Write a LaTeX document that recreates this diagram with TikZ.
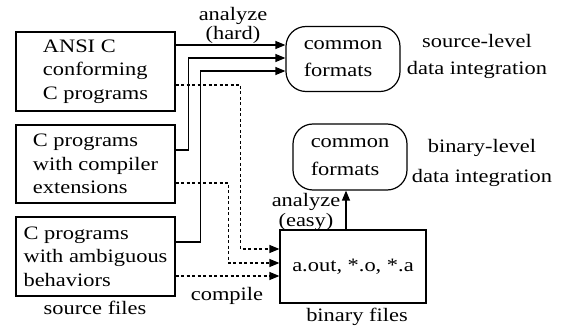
\documentclass[tikz,border=0pt]{standalone}
\usepackage{fontspec}
\setmainfont[FakeStretch=1.18]{Liberation Serif}
\usetikzlibrary{arrows.meta}
\begin{document}
\begin{tikzpicture}[x=1pt,y=-1pt,
  every node/.style={font=\fontsize{19}{23.5}\selectfont, inner sep=0pt},
  srcbox/.style={draw, line width=1.2pt, minimum width=159pt, minimum height=79pt, align=left},
  fmtbox/.style={draw, line width=1.2pt, rounded corners=20pt, minimum width=114pt, minimum height=65pt, align=left},
  lbl/.style={align=center},
  arr/.style={line width=1.2pt, -{Triangle[length=10pt,width=8pt]}},
  darr/.style={line width=1.2pt, dash pattern=on 3pt off 2.5pt, -{Triangle[length=10pt,width=8pt]}}]
\useasboundingbox (0,0) rectangle (566,329);
\node[srcbox] (b1) at (95.5,71.5) {ANSI C\\conforming\\C programs};
\node[srcbox, minimum height=78pt] (b2) at (95.5,164) {C programs\\with compiler\\extensions};
\node[srcbox] (b3) at (95.5,256.5) {C programs\\with ambiguous\\behaviors};
\node[lbl] (sf) at (95,308) {source files};
\node[fmtbox, font=\fontsize{19}{27}\selectfont] (cf1) at (343,59) {common\\formats};
\node[fmtbox, minimum height=66pt, font=\fontsize{19}{28}\selectfont] (cf2) at (350,157) {common\\formats};
\node[draw, line width=1.2pt, minimum width=146pt, minimum height=73pt] (bin) at (353,266.5) {a.out, *.o, *.a};
\node[lbl] (bf) at (357,317) {binary files};
\node[lbl, font=\fontsize{19}{27}\selectfont] (sl) at (477,56.5) {source-level\\data integration};
\node[lbl, font=\fontsize{19}{30}\selectfont] (bl) at (482,163) {binary-level\\data integration};
\node[lbl, font=\fontsize{19}{19}\selectfont] (ah) at (233,25) {analyze\\(hard)};
\node[lbl, font=\fontsize{19}{20}\selectfont] (ae) at (306,212) {analyze\\(easy)};
\node[lbl] (cp) at (227,296) {compile};
% solid arrows
\draw[arr] ([yshift=26.5pt]b1.east) -- ([yshift=14pt]cf1.west);
\draw[arr] ([yshift=14pt]b2.east) -- ++(13,0) |- ([yshift=1pt]cf1.west);
\draw[arr] ([yshift=14.5pt]b3.east) -- ++(25,0) |- ([yshift=-12pt]cf1.west);
% dashed arrows
\draw[darr] ([yshift=-13.5pt]b1.east) -- ++(65,0) |- ([yshift=17.5pt]bin.west);
\draw[darr] ([yshift=-19pt]b2.east) -- ++(53,0) |- ([yshift=3.5pt]bin.west);
\draw[darr] ([yshift=-19.5pt]b3.east) -- ([yshift=-9.5pt]bin.west);
% easy
\draw[arr] ([xshift=-7pt]bin.north) -- ([xshift=-7pt]bin.north |- cf2.south);
\end{tikzpicture}
\end{document}
